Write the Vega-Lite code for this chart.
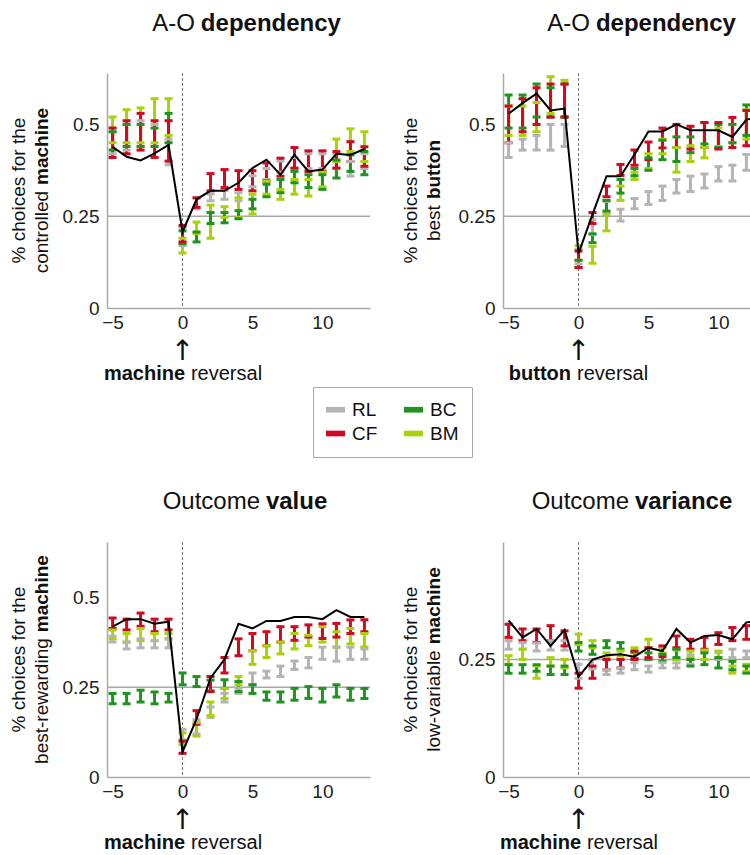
{
"$schema":"https://vega.github.io/schema/vega-lite/v6.json",
"background":"white",
"padding":{"left":10,"top":11,"right":0,"bottom":0},
"datasets":{
"obs":[
{"p":1,"x":-5,"y":0.439},{"p":1,"x":-4,"y":0.412},{"p":1,"x":-3,"y":0.402},{"p":1,"x":-2,"y":0.421},{"p":1,"x":-1,"y":0.444},{"p":1,"x":0,"y":0.207},{"p":1,"x":1,"y":0.296},{"p":1,"x":2,"y":0.319},{"p":1,"x":3,"y":0.319},{"p":1,"x":4,"y":0.341},{"p":1,"x":5,"y":0.381},{"p":1,"x":6,"y":0.404},{"p":1,"x":7,"y":0.363},{"p":1,"x":8,"y":0.417},{"p":1,"x":9,"y":0.372},{"p":1,"x":10,"y":0.377},{"p":1,"x":11,"y":0.42},{"p":1,"x":12,"y":0.417},{"p":1,"x":13,"y":0.433},
{"p":2,"x":-5,"y":0.529},{"p":2,"x":-4,"y":0.558},{"p":2,"x":-3,"y":0.584},{"p":2,"x":-2,"y":0.538},{"p":2,"x":-1,"y":0.543},{"p":2,"x":0,"y":0.149},{"p":2,"x":1,"y":0.255},{"p":2,"x":2,"y":0.359},{"p":2,"x":3,"y":0.359},{"p":2,"x":4,"y":0.418},{"p":2,"x":5,"y":0.481},{"p":2,"x":6,"y":0.481},{"p":2,"x":7,"y":0.5},{"p":2,"x":8,"y":0.484},{"p":2,"x":9,"y":0.484},{"p":2,"x":10,"y":0.484},{"p":2,"x":11,"y":0.466},{"p":2,"x":12,"y":0.513},{"p":2,"x":13,"y":0.519},
{"p":3,"x":-5,"y":0.419},{"p":3,"x":-4,"y":0.44},{"p":3,"x":-3,"y":0.44},{"p":3,"x":-2,"y":0.427},{"p":3,"x":-1,"y":0.433},{"p":3,"x":0,"y":0.07},{"p":3,"x":1,"y":0.161},{"p":3,"x":2,"y":0.276},{"p":3,"x":3,"y":0.328},{"p":3,"x":4,"y":0.427},{"p":3,"x":5,"y":0.414},{"p":3,"x":6,"y":0.435},{"p":3,"x":7,"y":0.435},{"p":3,"x":8,"y":0.446},{"p":3,"x":9,"y":0.446},{"p":3,"x":10,"y":0.44},{"p":3,"x":11,"y":0.465},{"p":3,"x":12,"y":0.446},{"p":3,"x":13,"y":0.446},
{"p":4,"x":-5,"y":0.333},{"p":4,"x":-4,"y":0.297},{"p":4,"x":-3,"y":0.315},{"p":4,"x":-2,"y":0.279},{"p":4,"x":-1,"y":0.313},{"p":4,"x":0,"y":0.213},{"p":4,"x":1,"y":0.25},{"p":4,"x":2,"y":0.259},{"p":4,"x":3,"y":0.261},{"p":4,"x":4,"y":0.256},{"p":4,"x":5,"y":0.275},{"p":4,"x":6,"y":0.268},{"p":4,"x":7,"y":0.315},{"p":4,"x":8,"y":0.286},{"p":4,"x":9,"y":0.3},{"p":4,"x":10,"y":0.302},{"p":4,"x":11,"y":0.293},{"p":4,"x":12,"y":0.329},{"p":4,"x":13,"y":0.333}
],
"eb":[
{"p":1,"m":"RL","x":-5,"lo":0.42,"hi":0.48},{"p":1,"m":"RL","x":-4,"lo":0.43,"hi":0.5},{"p":1,"m":"RL","x":-3,"lo":0.44,"hi":0.51},{"p":1,"m":"RL","x":-2,"lo":0.44,"hi":0.5},{"p":1,"m":"RL","x":-1,"lo":0.39,"hi":0.46},{"p":1,"m":"RL","x":0,"lo":0.17,"hi":0.22},{"p":1,"m":"RL","x":1,"lo":0.27,"hi":0.3},{"p":1,"m":"RL","x":2,"lo":0.292,"hi":0.31},{"p":1,"m":"RL","x":3,"lo":0.296,"hi":0.32},{"p":1,"m":"RL","x":4,"lo":0.292,"hi":0.314},{"p":1,"m":"RL","x":5,"lo":0.33,"hi":0.36},{"p":1,"m":"RL","x":6,"lo":0.35,"hi":0.38},{"p":1,"m":"RL","x":7,"lo":0.37,"hi":0.4},{"p":1,"m":"RL","x":8,"lo":0.38,"hi":0.41},{"p":1,"m":"RL","x":9,"lo":0.38,"hi":0.42},{"p":1,"m":"RL","x":10,"lo":0.38,"hi":0.42},{"p":1,"m":"RL","x":11,"lo":0.38,"hi":0.42},{"p":1,"m":"RL","x":12,"lo":0.359,"hi":0.399},{"p":1,"m":"RL","x":13,"lo":0.38,"hi":0.42},
{"p":1,"m":"BM","x":-5,"lo":0.45,"hi":0.52},{"p":1,"m":"BM","x":-4,"lo":0.45,"hi":0.54},{"p":1,"m":"BM","x":-3,"lo":0.45,"hi":0.545},{"p":1,"m":"BM","x":-2,"lo":0.45,"hi":0.57},{"p":1,"m":"BM","x":-1,"lo":0.47,"hi":0.57},{"p":1,"m":"BM","x":0,"lo":0.15,"hi":0.19},{"p":1,"m":"BM","x":1,"lo":0.203,"hi":0.234},{"p":1,"m":"BM","x":2,"lo":0.19,"hi":0.28},{"p":1,"m":"BM","x":3,"lo":0.247,"hi":0.276},{"p":1,"m":"BM","x":4,"lo":0.247,"hi":0.3},{"p":1,"m":"BM","x":5,"lo":0.256,"hi":0.31},{"p":1,"m":"BM","x":6,"lo":0.31,"hi":0.345},{"p":1,"m":"BM","x":7,"lo":0.296,"hi":0.323},{"p":1,"m":"BM","x":8,"lo":0.31,"hi":0.35},{"p":1,"m":"BM","x":9,"lo":0.305,"hi":0.35},{"p":1,"m":"BM","x":10,"lo":0.33,"hi":0.37},{"p":1,"m":"BM","x":11,"lo":0.399,"hi":0.46},{"p":1,"m":"BM","x":12,"lo":0.426,"hi":0.488},{"p":1,"m":"BM","x":13,"lo":0.399,"hi":0.48},
{"p":1,"m":"BC","x":-5,"lo":0.43,"hi":0.48},{"p":1,"m":"BC","x":-4,"lo":0.44,"hi":0.5},{"p":1,"m":"BC","x":-3,"lo":0.44,"hi":0.5},{"p":1,"m":"BC","x":-2,"lo":0.44,"hi":0.49},{"p":1,"m":"BC","x":-1,"lo":0.45,"hi":0.53},{"p":1,"m":"BC","x":0,"lo":0.175,"hi":0.21},{"p":1,"m":"BC","x":1,"lo":0.18,"hi":0.207},{"p":1,"m":"BC","x":2,"lo":0.23,"hi":0.26},{"p":1,"m":"BC","x":3,"lo":0.232,"hi":0.26},{"p":1,"m":"BC","x":4,"lo":0.243,"hi":0.265},{"p":1,"m":"BC","x":5,"lo":0.27,"hi":0.296},{"p":1,"m":"BC","x":6,"lo":0.303,"hi":0.337},{"p":1,"m":"BC","x":7,"lo":0.314,"hi":0.35},{"p":1,"m":"BC","x":8,"lo":0.341,"hi":0.372},{"p":1,"m":"BC","x":9,"lo":0.328,"hi":0.363},{"p":1,"m":"BC","x":10,"lo":0.323,"hi":0.363},{"p":1,"m":"BC","x":11,"lo":0.354,"hi":0.403},{"p":1,"m":"BC","x":12,"lo":0.372,"hi":0.417},{"p":1,"m":"BC","x":13,"lo":0.363,"hi":0.426},
{"p":1,"m":"CF","x":-5,"lo":0.41,"hi":0.49},{"p":1,"m":"CF","x":-4,"lo":0.42,"hi":0.51},{"p":1,"m":"CF","x":-3,"lo":0.43,"hi":0.53},{"p":1,"m":"CF","x":-2,"lo":0.41,"hi":0.51},{"p":1,"m":"CF","x":-1,"lo":0.4,"hi":0.51},{"p":1,"m":"CF","x":0,"lo":0.18,"hi":0.225},{"p":1,"m":"CF","x":1,"lo":0.274,"hi":0.3},{"p":1,"m":"CF","x":2,"lo":0.319,"hi":0.366},{"p":1,"m":"CF","x":3,"lo":0.328,"hi":0.377},{"p":1,"m":"CF","x":4,"lo":0.323,"hi":0.374},{"p":1,"m":"CF","x":5,"lo":0.319,"hi":0.374},{"p":1,"m":"CF","x":6,"lo":0.346,"hi":0.395},{"p":1,"m":"CF","x":7,"lo":0.359,"hi":0.408},{"p":1,"m":"CF","x":8,"lo":0.381,"hi":0.437},{"p":1,"m":"CF","x":9,"lo":0.372,"hi":0.428},{"p":1,"m":"CF","x":10,"lo":0.372,"hi":0.428},{"p":1,"m":"CF","x":11,"lo":0.381,"hi":0.426},{"p":1,"m":"CF","x":12,"lo":0.399,"hi":0.453},{"p":1,"m":"CF","x":13,"lo":0.386,"hi":0.439},

{"p":2,"m":"RL","x":-5,"lo":0.41,"hi":0.45},{"p":2,"m":"RL","x":-4,"lo":0.43,"hi":0.46},{"p":2,"m":"RL","x":-3,"lo":0.43,"hi":0.47},{"p":2,"m":"RL","x":-2,"lo":0.43,"hi":0.5},{"p":2,"m":"RL","x":-1,"lo":0.44,"hi":0.5},{"p":2,"m":"RL","x":0,"lo":0.12,"hi":0.16},{"p":2,"m":"RL","x":1,"lo":0.2,"hi":0.24},{"p":2,"m":"RL","x":2,"lo":0.26,"hi":0.29},{"p":2,"m":"RL","x":3,"lo":0.237,"hi":0.269},{"p":2,"m":"RL","x":4,"lo":0.27,"hi":0.298},{"p":2,"m":"RL","x":5,"lo":0.282,"hi":0.317},{"p":2,"m":"RL","x":6,"lo":0.293,"hi":0.332},{"p":2,"m":"RL","x":7,"lo":0.313,"hi":0.35},{"p":2,"m":"RL","x":8,"lo":0.317,"hi":0.359},{"p":2,"m":"RL","x":9,"lo":0.327,"hi":0.365},{"p":2,"m":"RL","x":10,"lo":0.346,"hi":0.385},{"p":2,"m":"RL","x":11,"lo":0.346,"hi":0.389},{"p":2,"m":"RL","x":12,"lo":0.375,"hi":0.418},{"p":2,"m":"RL","x":13,"lo":0.38,"hi":0.42},
{"p":2,"m":"BM","x":-5,"lo":0.47,"hi":0.55},{"p":2,"m":"BM","x":-4,"lo":0.47,"hi":0.55},{"p":2,"m":"BM","x":-3,"lo":0.48,"hi":0.56},{"p":2,"m":"BM","x":-2,"lo":0.53,"hi":0.63},{"p":2,"m":"BM","x":-1,"lo":0.52,"hi":0.62},{"p":2,"m":"BM","x":0,"lo":0.13,"hi":0.17},{"p":2,"m":"BM","x":1,"lo":0.122,"hi":0.168},{"p":2,"m":"BM","x":2,"lo":0.21,"hi":0.255},{"p":2,"m":"BM","x":3,"lo":0.293,"hi":0.332},{"p":2,"m":"BM","x":4,"lo":0.35,"hi":0.37},{"p":2,"m":"BM","x":5,"lo":0.38,"hi":0.42},{"p":2,"m":"BM","x":6,"lo":0.42,"hi":0.46},{"p":2,"m":"BM","x":7,"lo":0.37,"hi":0.437},{"p":2,"m":"BM","x":8,"lo":0.399,"hi":0.442},{"p":2,"m":"BM","x":9,"lo":0.409,"hi":0.437},{"p":2,"m":"BM","x":10,"lo":0.44,"hi":0.49},{"p":2,"m":"BM","x":11,"lo":0.45,"hi":0.5},{"p":2,"m":"BM","x":12,"lo":0.46,"hi":0.54},{"p":2,"m":"BM","x":13,"lo":0.46,"hi":0.53},
{"p":2,"m":"BC","x":-5,"lo":0.49,"hi":0.58},{"p":2,"m":"BC","x":-4,"lo":0.49,"hi":0.58},{"p":2,"m":"BC","x":-3,"lo":0.52,"hi":0.61},{"p":2,"m":"BC","x":-2,"lo":0.52,"hi":0.6},{"p":2,"m":"BC","x":-1,"lo":0.52,"hi":0.61},{"p":2,"m":"BC","x":0,"lo":0.11,"hi":0.13},{"p":2,"m":"BC","x":1,"lo":0.178,"hi":0.202},{"p":2,"m":"BC","x":2,"lo":0.264,"hi":0.293},{"p":2,"m":"BC","x":3,"lo":0.313,"hi":0.35},{"p":2,"m":"BC","x":4,"lo":0.36,"hi":0.38},{"p":2,"m":"BC","x":5,"lo":0.375,"hi":0.409},{"p":2,"m":"BC","x":6,"lo":0.404,"hi":0.457},{"p":2,"m":"BC","x":7,"lo":0.399,"hi":0.466},{"p":2,"m":"BC","x":8,"lo":0.423,"hi":0.466},{"p":2,"m":"BC","x":9,"lo":0.447,"hi":0.505},{"p":2,"m":"BC","x":10,"lo":0.437,"hi":0.5},{"p":2,"m":"BC","x":11,"lo":0.45,"hi":0.5},{"p":2,"m":"BC","x":12,"lo":0.47,"hi":0.553},{"p":2,"m":"BC","x":13,"lo":0.47,"hi":0.55},
{"p":2,"m":"CF","x":-5,"lo":0.45,"hi":0.55},{"p":2,"m":"CF","x":-4,"lo":0.48,"hi":0.57},{"p":2,"m":"CF","x":-3,"lo":0.5,"hi":0.6},{"p":2,"m":"CF","x":-2,"lo":0.52,"hi":0.61},{"p":2,"m":"CF","x":-1,"lo":0.52,"hi":0.61},{"p":2,"m":"CF","x":0,"lo":0.11,"hi":0.155},{"p":2,"m":"CF","x":1,"lo":0.23,"hi":0.26},{"p":2,"m":"CF","x":2,"lo":0.303,"hi":0.332},{"p":2,"m":"CF","x":3,"lo":0.361,"hi":0.391},{"p":2,"m":"CF","x":4,"lo":0.389,"hi":0.43},{"p":2,"m":"CF","x":5,"lo":0.404,"hi":0.452},{"p":2,"m":"CF","x":6,"lo":0.436,"hi":0.49},{"p":2,"m":"CF","x":7,"lo":0.437,"hi":0.5},{"p":2,"m":"CF","x":8,"lo":0.433,"hi":0.495},{"p":2,"m":"CF","x":9,"lo":0.437,"hi":0.505},{"p":2,"m":"CF","x":10,"lo":0.433,"hi":0.505},{"p":2,"m":"CF","x":11,"lo":0.437,"hi":0.519},{"p":2,"m":"CF","x":12,"lo":0.442,"hi":0.538},{"p":2,"m":"CF","x":13,"lo":0.44,"hi":0.54},

{"p":3,"m":"RL","x":-5,"lo":0.376,"hi":0.392},{"p":3,"m":"RL","x":-4,"lo":0.357,"hi":0.376},{"p":3,"m":"RL","x":-3,"lo":0.36,"hi":0.385},{"p":3,"m":"RL","x":-2,"lo":0.36,"hi":0.38},{"p":3,"m":"RL","x":-1,"lo":0.36,"hi":0.385},{"p":3,"m":"RL","x":0,"lo":0.104,"hi":0.133},{"p":3,"m":"RL","x":1,"lo":0.12,"hi":0.16},{"p":3,"m":"RL","x":2,"lo":0.166,"hi":0.195},{"p":3,"m":"RL","x":3,"lo":0.209,"hi":0.233},{"p":3,"m":"RL","x":4,"lo":0.233,"hi":0.247},{"p":3,"m":"RL","x":5,"lo":0.257,"hi":0.29},{"p":3,"m":"RL","x":6,"lo":0.276,"hi":0.295},{"p":3,"m":"RL","x":7,"lo":0.28,"hi":0.309},{"p":3,"m":"RL","x":8,"lo":0.3,"hi":0.323},{"p":3,"m":"RL","x":9,"lo":0.304,"hi":0.333},{"p":3,"m":"RL","x":10,"lo":0.328,"hi":0.362},{"p":3,"m":"RL","x":11,"lo":0.323,"hi":0.362},{"p":3,"m":"RL","x":12,"lo":0.328,"hi":0.362},{"p":3,"m":"RL","x":13,"lo":0.328,"hi":0.357},
{"p":3,"m":"BM","x":-5,"lo":0.385,"hi":0.41},{"p":3,"m":"BM","x":-4,"lo":0.376,"hi":0.4},{"p":3,"m":"BM","x":-3,"lo":0.38,"hi":0.414},{"p":3,"m":"BM","x":-2,"lo":0.38,"hi":0.4},{"p":3,"m":"BM","x":-1,"lo":0.385,"hi":0.4},{"p":3,"m":"BM","x":0,"lo":0.09,"hi":0.123},{"p":3,"m":"BM","x":1,"lo":0.114,"hi":0.152},{"p":3,"m":"BM","x":2,"lo":0.171,"hi":0.209},{"p":3,"m":"BM","x":3,"lo":0.219,"hi":0.247},{"p":3,"m":"BM","x":4,"lo":0.257,"hi":0.28},{"p":3,"m":"BM","x":5,"lo":0.314,"hi":0.352},{"p":3,"m":"BM","x":6,"lo":0.333,"hi":0.366},{"p":3,"m":"BM","x":7,"lo":0.343,"hi":0.376},{"p":3,"m":"BM","x":8,"lo":0.357,"hi":0.4},{"p":3,"m":"BM","x":9,"lo":0.366,"hi":0.395},{"p":3,"m":"BM","x":10,"lo":0.376,"hi":0.419},{"p":3,"m":"BM","x":11,"lo":0.362,"hi":0.405},{"p":3,"m":"BM","x":12,"lo":0.371,"hi":0.414},{"p":3,"m":"BM","x":13,"lo":0.362,"hi":0.4},
{"p":3,"m":"BC","x":-5,"lo":0.204,"hi":0.233},{"p":3,"m":"BC","x":-4,"lo":0.204,"hi":0.233},{"p":3,"m":"BC","x":-3,"lo":0.209,"hi":0.242},{"p":3,"m":"BC","x":-2,"lo":0.204,"hi":0.237},{"p":3,"m":"BC","x":-1,"lo":0.209,"hi":0.233},{"p":3,"m":"BC","x":0,"lo":0.257,"hi":0.29},{"p":3,"m":"BC","x":1,"lo":0.252,"hi":0.28},{"p":3,"m":"BC","x":2,"lo":0.24,"hi":0.27},{"p":3,"m":"BC","x":3,"lo":0.247,"hi":0.271},{"p":3,"m":"BC","x":4,"lo":0.238,"hi":0.266},{"p":3,"m":"BC","x":5,"lo":0.233,"hi":0.257},{"p":3,"m":"BC","x":6,"lo":0.214,"hi":0.237},{"p":3,"m":"BC","x":7,"lo":0.209,"hi":0.237},{"p":3,"m":"BC","x":8,"lo":0.214,"hi":0.247},{"p":3,"m":"BC","x":9,"lo":0.219,"hi":0.252},{"p":3,"m":"BC","x":10,"lo":0.209,"hi":0.247},{"p":3,"m":"BC","x":11,"lo":0.223,"hi":0.257},{"p":3,"m":"BC","x":12,"lo":0.214,"hi":0.247},{"p":3,"m":"BC","x":13,"lo":0.219,"hi":0.247},
{"p":3,"m":"CF","x":-5,"lo":0.414,"hi":0.443},{"p":3,"m":"CF","x":-4,"lo":0.41,"hi":0.44},{"p":3,"m":"CF","x":-3,"lo":0.42,"hi":0.457},{"p":3,"m":"CF","x":-2,"lo":0.405,"hi":0.44},{"p":3,"m":"CF","x":-1,"lo":0.41,"hi":0.44},{"p":3,"m":"CF","x":0,"lo":0.066,"hi":0.1},{"p":3,"m":"CF","x":1,"lo":0.147,"hi":0.185},{"p":3,"m":"CF","x":2,"lo":0.238,"hi":0.28},{"p":3,"m":"CF","x":3,"lo":0.29,"hi":0.333},{"p":3,"m":"CF","x":4,"lo":0.338,"hi":0.385},{"p":3,"m":"CF","x":5,"lo":0.352,"hi":0.4},{"p":3,"m":"CF","x":6,"lo":0.366,"hi":0.405},{"p":3,"m":"CF","x":7,"lo":0.376,"hi":0.419},{"p":3,"m":"CF","x":8,"lo":0.381,"hi":0.419},{"p":3,"m":"CF","x":9,"lo":0.39,"hi":0.424},{"p":3,"m":"CF","x":10,"lo":0.386,"hi":0.427},{"p":3,"m":"CF","x":11,"lo":0.39,"hi":0.428},{"p":3,"m":"CF","x":12,"lo":0.4,"hi":0.438},{"p":3,"m":"CF","x":13,"lo":0.405,"hi":0.438},

{"p":4,"m":"RL","x":-5,"lo":0.272,"hi":0.29},{"p":4,"m":"RL","x":-4,"lo":0.272,"hi":0.286},{"p":4,"m":"RL","x":-3,"lo":0.268,"hi":0.285},{"p":4,"m":"RL","x":-2,"lo":0.27,"hi":0.29},{"p":4,"m":"RL","x":-1,"lo":0.27,"hi":0.29},{"p":4,"m":"RL","x":0,"lo":0.21,"hi":0.24},{"p":4,"m":"RL","x":1,"lo":0.23,"hi":0.25},{"p":4,"m":"RL","x":2,"lo":0.218,"hi":0.228},{"p":4,"m":"RL","x":3,"lo":0.221,"hi":0.232},{"p":4,"m":"RL","x":4,"lo":0.228,"hi":0.243},{"p":4,"m":"RL","x":5,"lo":0.223,"hi":0.236},{"p":4,"m":"RL","x":6,"lo":0.232,"hi":0.243},{"p":4,"m":"RL","x":7,"lo":0.232,"hi":0.243},{"p":4,"m":"RL","x":8,"lo":0.24,"hi":0.26},{"p":4,"m":"RL","x":9,"lo":0.25,"hi":0.265},{"p":4,"m":"RL","x":10,"lo":0.25,"hi":0.265},{"p":4,"m":"RL","x":11,"lo":0.254,"hi":0.272},{"p":4,"m":"RL","x":12,"lo":0.254,"hi":0.268},{"p":4,"m":"RL","x":13,"lo":0.255,"hi":0.27},
{"p":4,"m":"BM","x":-5,"lo":0.24,"hi":0.258},{"p":4,"m":"BM","x":-4,"lo":0.25,"hi":0.272},{"p":4,"m":"BM","x":-3,"lo":0.21,"hi":0.236},{"p":4,"m":"BM","x":-2,"lo":0.236,"hi":0.254},{"p":4,"m":"BM","x":-1,"lo":0.232,"hi":0.25},{"p":4,"m":"BM","x":0,"lo":0.282,"hi":0.304},{"p":4,"m":"BM","x":1,"lo":0.275,"hi":0.29},{"p":4,"m":"BM","x":2,"lo":0.254,"hi":0.264},{"p":4,"m":"BM","x":3,"lo":0.257,"hi":0.268},{"p":4,"m":"BM","x":4,"lo":0.264,"hi":0.275},{"p":4,"m":"BM","x":5,"lo":0.275,"hi":0.293},{"p":4,"m":"BM","x":6,"lo":0.264,"hi":0.275},{"p":4,"m":"BM","x":7,"lo":0.25,"hi":0.27},{"p":4,"m":"BM","x":8,"lo":0.254,"hi":0.268},{"p":4,"m":"BM","x":9,"lo":0.25,"hi":0.27},{"p":4,"m":"BM","x":10,"lo":0.254,"hi":0.268},{"p":4,"m":"BM","x":11,"lo":0.221,"hi":0.236},{"p":4,"m":"BM","x":12,"lo":0.225,"hi":0.24},{"p":4,"m":"BM","x":13,"lo":0.23,"hi":0.245},
{"p":4,"m":"BC","x":-5,"lo":0.221,"hi":0.239},{"p":4,"m":"BC","x":-4,"lo":0.221,"hi":0.239},{"p":4,"m":"BC","x":-3,"lo":0.225,"hi":0.239},{"p":4,"m":"BC","x":-2,"lo":0.218,"hi":0.236},{"p":4,"m":"BC","x":-1,"lo":0.218,"hi":0.236},{"p":4,"m":"BC","x":0,"lo":0.268,"hi":0.286},{"p":4,"m":"BC","x":1,"lo":0.261,"hi":0.279},{"p":4,"m":"BC","x":2,"lo":0.275,"hi":0.29},{"p":4,"m":"BC","x":3,"lo":0.272,"hi":0.286},{"p":4,"m":"BC","x":4,"lo":0.252,"hi":0.266},{"p":4,"m":"BC","x":5,"lo":0.25,"hi":0.264},{"p":4,"m":"BC","x":6,"lo":0.246,"hi":0.261},{"p":4,"m":"BC","x":7,"lo":0.254,"hi":0.272},{"p":4,"m":"BC","x":8,"lo":0.236,"hi":0.25},{"p":4,"m":"BC","x":9,"lo":0.239,"hi":0.264},{"p":4,"m":"BC","x":10,"lo":0.232,"hi":0.254},{"p":4,"m":"BC","x":11,"lo":0.228,"hi":0.246},{"p":4,"m":"BC","x":12,"lo":0.221,"hi":0.236},{"p":4,"m":"BC","x":13,"lo":0.22,"hi":0.235},
{"p":4,"m":"CF","x":-5,"lo":0.297,"hi":0.325},{"p":4,"m":"CF","x":-4,"lo":0.29,"hi":0.315},{"p":4,"m":"CF","x":-3,"lo":0.286,"hi":0.315},{"p":4,"m":"CF","x":-2,"lo":0.29,"hi":0.322},{"p":4,"m":"CF","x":-1,"lo":0.279,"hi":0.311},{"p":4,"m":"CF","x":0,"lo":0.189,"hi":0.221},{"p":4,"m":"CF","x":1,"lo":0.21,"hi":0.236},{"p":4,"m":"CF","x":2,"lo":0.228,"hi":0.25},{"p":4,"m":"CF","x":3,"lo":0.232,"hi":0.25},{"p":4,"m":"CF","x":4,"lo":0.25,"hi":0.268},{"p":4,"m":"CF","x":5,"lo":0.254,"hi":0.275},{"p":4,"m":"CF","x":6,"lo":0.256,"hi":0.279},{"p":4,"m":"CF","x":7,"lo":0.275,"hi":0.3},{"p":4,"m":"CF","x":8,"lo":0.272,"hi":0.293},{"p":4,"m":"CF","x":9,"lo":0.272,"hi":0.297},{"p":4,"m":"CF","x":10,"lo":0.282,"hi":0.307},{"p":4,"m":"CF","x":11,"lo":0.29,"hi":0.318},{"p":4,"m":"CF","x":12,"lo":0.293,"hi":0.322},{"p":4,"m":"CF","x":13,"lo":0.29,"hi":0.32}
]
},
"vconcat":[
{"hconcat":[
{"width":263,"height":235,
"layer":[
{"data":{"values":[{}]},"mark":{"type":"rule","color":"#a8a8a8","strokeWidth":1.5},"encoding":{"y":{"datum":0.25,"type":"quantitative"}}},
{"data":{"values":[{}]},"mark":{"type":"rule","color":"#777777","strokeDash":[3,2],"strokeWidth":1},"encoding":{"x":{"datum":0,"type":"quantitative"}}},
{"data":{"name":"eb"},"transform":[{"filter":"datum.p==1"}],
"encoding":{"x":{"field":"x","type":"quantitative","scale":{"domain":[-5.4,13.4],"nice":false,"zero":false},"axis":{"values":[-5,0,5,10],"title":null}},
"color":{"field":"m","type":"nominal","scale":{"domain":["RL","CF","BC","BM"],"range":["#b4b4b4","#d00b21","#1f941f","#a8d20a"]},"legend":{"title":null}}},
"layer":[
{"mark":{"type":"rule","strokeWidth":3,"opacity":1},"encoding":{"y":{"field":"lo","type":"quantitative","scale":{"domain":[0,0.64],"nice":false},"axis":{"values":[0,0.25,0.5],"format":".2~f","title":null}},"y2":{"field":"hi"}}},
{"mark":{"type":"tick","orient":"horizontal","size":8,"thickness":3,"opacity":1},"encoding":{"y":{"field":"lo","type":"quantitative"}}},
{"mark":{"type":"tick","orient":"horizontal","size":8,"thickness":3,"opacity":1},"encoding":{"y":{"field":"hi","type":"quantitative"}}}
]},
{"data":{"name":"obs"},"transform":[{"filter":"datum.p==1"}],"mark":{"type":"line","color":"#000000","strokeWidth":2},"encoding":{"x":{"field":"x","type":"quantitative"},"y":{"field":"y","type":"quantitative"}}},
{"data":{"values":[{}]},"mark":{"type":"text","align":"right","baseline":"alphabetic","fontSize":24,"color":"#111111"},"encoding":{"x":{"datum":0.89,"type":"quantitative"},"y":{"datum":0.7544,"type":"quantitative"},"text":{"value":"A-O"}}},
{"data":{"values":[{}]},"mark":{"type":"text","align":"left","baseline":"alphabetic","fontSize":24,"fontWeight":"bold","color":"#111111"},"encoding":{"x":{"datum":1.31,"type":"quantitative"},"y":{"datum":0.7544,"type":"quantitative"},"text":{"value":"dependency"}}},
{"data":{"values":[{}]},"mark":{"type":"text","align":"center","baseline":"alphabetic","fontSize":28,"font":"DejaVu Sans","color":"#111111"},"encoding":{"x":{"datum":0,"type":"quantitative"},"y":{"datum":-0.1416,"type":"quantitative"},"text":{"value":"↑"}}},
{"data":{"values":[{}]},"mark":{"type":"text","align":"right","baseline":"alphabetic","fontSize":20,"fontWeight":"bold","color":"#111111"},"encoding":{"x":{"datum":0.18,"type":"quantitative"},"y":{"datum":-0.1961,"type":"quantitative"},"text":{"value":"machine"}}},
{"data":{"values":[{}]},"mark":{"type":"text","align":"left","baseline":"alphabetic","fontSize":20,"color":"#111111"},"encoding":{"x":{"datum":0.6,"type":"quantitative"},"y":{"datum":-0.1961,"type":"quantitative"},"text":{"value":"reversal"}}},
{"data":{"values":[{}]},"mark":{"type":"text","align":"center","baseline":"middle","angle":270,"fontSize":19,"color":"#111111"},"encoding":{"x":{"datum":-11.69,"type":"quantitative"},"y":{"datum":0.32,"type":"quantitative"},"text":{"value":"% choices for the"}}},
{"data":{"values":[{}]},"mark":{"type":"text","align":"right","baseline":"middle","angle":270,"fontSize":19,"color":"#111111"},"encoding":{"x":{"datum":-10.05,"type":"quantitative"},"y":{"datum":0.3188,"type":"quantitative"},"text":{"value":"controlled"}}},
{"data":{"values":[{}]},"mark":{"type":"text","align":"left","baseline":"middle","angle":270,"fontSize":19,"fontWeight":"bold","color":"#111111"},"encoding":{"x":{"datum":-10.05,"type":"quantitative"},"y":{"datum":0.3352,"type":"quantitative"},"text":{"value":"machine"}}}
]},
{"width":248,"height":235,
"layer":[
{"data":{"values":[{}]},"mark":{"type":"rule","color":"#a8a8a8","strokeWidth":1.5},"encoding":{"y":{"datum":0.25,"type":"quantitative"}}},
{"data":{"values":[{}]},"mark":{"type":"rule","color":"#777777","strokeDash":[3,2],"strokeWidth":1},"encoding":{"x":{"datum":0,"type":"quantitative"}}},
{"data":{"name":"eb"},"transform":[{"filter":"datum.p==2"}],
"encoding":{"x":{"field":"x","type":"quantitative","scale":{"domain":[-5.4,12.33],"nice":false,"zero":false},"axis":{"values":[-5,0,5,10],"title":null}},
"color":{"field":"m","type":"nominal","scale":{"domain":["RL","CF","BC","BM"],"range":["#b4b4b4","#d00b21","#1f941f","#a8d20a"]},"legend":{"title":null}}},
"layer":[
{"mark":{"type":"rule","strokeWidth":3,"opacity":1,"clip":true},"encoding":{"y":{"field":"lo","type":"quantitative","scale":{"domain":[0,0.64],"nice":false},"axis":{"values":[0,0.25,0.5],"format":".2~f","title":null}},"y2":{"field":"hi"}}},
{"mark":{"type":"tick","orient":"horizontal","size":8,"thickness":3,"opacity":1,"clip":true},"encoding":{"y":{"field":"lo","type":"quantitative"}}},
{"mark":{"type":"tick","orient":"horizontal","size":8,"thickness":3,"opacity":1,"clip":true},"encoding":{"y":{"field":"hi","type":"quantitative"}}}
]},
{"data":{"name":"obs"},"transform":[{"filter":"datum.p==2"}],"mark":{"type":"line","color":"#000000","strokeWidth":2,"clip":true},"encoding":{"x":{"field":"x","type":"quantitative"},"y":{"field":"y","type":"quantitative"}}},
{"data":{"values":[{}]},"mark":{"type":"text","align":"right","baseline":"alphabetic","fontSize":24,"color":"#111111"},"encoding":{"x":{"datum":0.82,"type":"quantitative"},"y":{"datum":0.7544,"type":"quantitative"},"text":{"value":"A-O"}}},
{"data":{"values":[{}]},"mark":{"type":"text","align":"left","baseline":"alphabetic","fontSize":24,"fontWeight":"bold","color":"#111111"},"encoding":{"x":{"datum":1.24,"type":"quantitative"},"y":{"datum":0.7544,"type":"quantitative"},"text":{"value":"dependency"}}},
{"data":{"values":[{}]},"mark":{"type":"text","align":"center","baseline":"alphabetic","fontSize":28,"font":"DejaVu Sans","color":"#111111"},"encoding":{"x":{"datum":0,"type":"quantitative"},"y":{"datum":-0.1416,"type":"quantitative"},"text":{"value":"↑"}}},
{"data":{"values":[{}]},"mark":{"type":"text","align":"right","baseline":"alphabetic","fontSize":20,"fontWeight":"bold","color":"#111111"},"encoding":{"x":{"datum":-0.54,"type":"quantitative"},"y":{"datum":-0.1961,"type":"quantitative"},"text":{"value":"button"}}},
{"data":{"values":[{}]},"mark":{"type":"text","align":"left","baseline":"alphabetic","fontSize":20,"color":"#111111"},"encoding":{"x":{"datum":-0.11,"type":"quantitative"},"y":{"datum":-0.1961,"type":"quantitative"},"text":{"value":"reversal"}}},
{"data":{"values":[{}]},"mark":{"type":"text","align":"center","baseline":"middle","angle":270,"fontSize":19,"color":"#111111"},"encoding":{"x":{"datum":-11.98,"type":"quantitative"},"y":{"datum":0.32,"type":"quantitative"},"text":{"value":"% choices for the"}}},
{"data":{"values":[{}]},"mark":{"type":"text","align":"right","baseline":"middle","angle":270,"fontSize":19,"color":"#111111"},"encoding":{"x":{"datum":-10.33,"type":"quantitative"},"y":{"datum":0.2802,"type":"quantitative"},"text":{"value":"best"}}},
{"data":{"values":[{}]},"mark":{"type":"text","align":"left","baseline":"middle","angle":270,"fontSize":19,"fontWeight":"bold","color":"#111111"},"encoding":{"x":{"datum":-10.33,"type":"quantitative"},"y":{"datum":0.2966,"type":"quantitative"},"text":{"value":"button"}}}
]}
],"spacing":30,"resolve":{"scale":{"color":"shared"},"legend":{"color":"shared"}}},
{"hconcat":[
{"width":263,"height":235,
"layer":[
{"data":{"values":[{}]},"mark":{"type":"rule","color":"#a8a8a8","strokeWidth":1.5},"encoding":{"y":{"datum":0.25,"type":"quantitative"}}},
{"data":{"values":[{}]},"mark":{"type":"rule","color":"#777777","strokeDash":[3,2],"strokeWidth":1},"encoding":{"x":{"datum":0,"type":"quantitative"}}},
{"data":{"name":"eb"},"transform":[{"filter":"datum.p==3"}],
"encoding":{"x":{"field":"x","type":"quantitative","scale":{"domain":[-5.4,13.4],"nice":false,"zero":false},"axis":{"values":[-5,0,5,10],"title":null}},
"color":{"field":"m","type":"nominal","scale":{"domain":["RL","CF","BC","BM"],"range":["#b4b4b4","#d00b21","#1f941f","#a8d20a"]},"legend":{"title":null}}},
"layer":[
{"mark":{"type":"rule","strokeWidth":3,"opacity":1},"encoding":{"y":{"field":"lo","type":"quantitative","scale":{"domain":[0,0.655],"nice":false},"axis":{"values":[0,0.25,0.5],"format":".2~f","title":null}},"y2":{"field":"hi"}}},
{"mark":{"type":"tick","orient":"horizontal","size":8,"thickness":3,"opacity":1},"encoding":{"y":{"field":"lo","type":"quantitative"}}},
{"mark":{"type":"tick","orient":"horizontal","size":8,"thickness":3,"opacity":1},"encoding":{"y":{"field":"hi","type":"quantitative"}}}
]},
{"data":{"name":"obs"},"transform":[{"filter":"datum.p==3"}],"mark":{"type":"line","color":"#000000","strokeWidth":2},"encoding":{"x":{"field":"x","type":"quantitative"},"y":{"field":"y","type":"quantitative"}}},
{"data":{"values":[{}]},"mark":{"type":"text","align":"right","baseline":"alphabetic","fontSize":24,"color":"#111111"},"encoding":{"x":{"datum":5.54,"type":"quantitative"},"y":{"datum":0.747,"type":"quantitative"},"text":{"value":"Outcome"}}},
{"data":{"values":[{}]},"mark":{"type":"text","align":"left","baseline":"alphabetic","fontSize":24,"fontWeight":"bold","color":"#111111"},"encoding":{"x":{"datum":5.96,"type":"quantitative"},"y":{"datum":0.747,"type":"quantitative"},"text":{"value":"value"}}},
{"data":{"values":[{}]},"mark":{"type":"text","align":"center","baseline":"alphabetic","fontSize":28,"font":"DejaVu Sans","color":"#111111"},"encoding":{"x":{"datum":0,"type":"quantitative"},"y":{"datum":-0.1449,"type":"quantitative"},"text":{"value":"↑"}}},
{"data":{"values":[{}]},"mark":{"type":"text","align":"right","baseline":"alphabetic","fontSize":20,"fontWeight":"bold","color":"#111111"},"encoding":{"x":{"datum":0.18,"type":"quantitative"},"y":{"datum":-0.2007,"type":"quantitative"},"text":{"value":"machine"}}},
{"data":{"values":[{}]},"mark":{"type":"text","align":"left","baseline":"alphabetic","fontSize":20,"color":"#111111"},"encoding":{"x":{"datum":0.6,"type":"quantitative"},"y":{"datum":-0.2007,"type":"quantitative"},"text":{"value":"reversal"}}},
{"data":{"values":[{}]},"mark":{"type":"text","align":"center","baseline":"middle","angle":270,"fontSize":19,"color":"#111111"},"encoding":{"x":{"datum":-11.69,"type":"quantitative"},"y":{"datum":0.3275,"type":"quantitative"},"text":{"value":"% choices for the"}}},
{"data":{"values":[{}]},"mark":{"type":"text","align":"right","baseline":"middle","angle":270,"fontSize":19,"color":"#111111"},"encoding":{"x":{"datum":-10.05,"type":"quantitative"},"y":{"datum":0.3868,"type":"quantitative"},"text":{"value":"best-rewarding"}}},
{"data":{"values":[{}]},"mark":{"type":"text","align":"left","baseline":"middle","angle":270,"fontSize":19,"fontWeight":"bold","color":"#111111"},"encoding":{"x":{"datum":-10.05,"type":"quantitative"},"y":{"datum":0.4036,"type":"quantitative"},"text":{"value":"machine"}}}
]},
{"width":248,"height":235,
"layer":[
{"data":{"values":[{}]},"mark":{"type":"rule","color":"#a8a8a8","strokeWidth":1.5},"encoding":{"y":{"datum":0.25,"type":"quantitative"}}},
{"data":{"values":[{}]},"mark":{"type":"rule","color":"#777777","strokeDash":[3,2],"strokeWidth":1},"encoding":{"x":{"datum":0,"type":"quantitative"}}},
{"data":{"name":"eb"},"transform":[{"filter":"datum.p==4"}],
"encoding":{"x":{"field":"x","type":"quantitative","scale":{"domain":[-5.4,12.33],"nice":false,"zero":false},"axis":{"values":[-5,0,5,10],"title":null}},
"color":{"field":"m","type":"nominal","scale":{"domain":["RL","CF","BC","BM"],"range":["#b4b4b4","#d00b21","#1f941f","#a8d20a"]},"legend":{"title":null}}},
"layer":[
{"mark":{"type":"rule","strokeWidth":3,"opacity":1,"clip":true},"encoding":{"y":{"field":"lo","type":"quantitative","scale":{"domain":[0,0.5],"nice":false},"axis":{"values":[0,0.25],"format":".2~f","title":null}},"y2":{"field":"hi"}}},
{"mark":{"type":"tick","orient":"horizontal","size":8,"thickness":3,"opacity":1,"clip":true},"encoding":{"y":{"field":"lo","type":"quantitative"}}},
{"mark":{"type":"tick","orient":"horizontal","size":8,"thickness":3,"opacity":1,"clip":true},"encoding":{"y":{"field":"hi","type":"quantitative"}}}
]},
{"data":{"name":"obs"},"transform":[{"filter":"datum.p==4"}],"mark":{"type":"line","color":"#000000","strokeWidth":2,"clip":true},"encoding":{"x":{"field":"x","type":"quantitative"},"y":{"field":"y","type":"quantitative"}}},
{"data":{"values":[{}]},"mark":{"type":"text","align":"right","baseline":"alphabetic","fontSize":24,"color":"#111111"},"encoding":{"x":{"datum":3.61,"type":"quantitative"},"y":{"datum":0.5702,"type":"quantitative"},"text":{"value":"Outcome"}}},
{"data":{"values":[{}]},"mark":{"type":"text","align":"left","baseline":"alphabetic","fontSize":24,"fontWeight":"bold","color":"#111111"},"encoding":{"x":{"datum":4.03,"type":"quantitative"},"y":{"datum":0.5702,"type":"quantitative"},"text":{"value":"variance"}}},
{"data":{"values":[{}]},"mark":{"type":"text","align":"center","baseline":"alphabetic","fontSize":28,"font":"DejaVu Sans","color":"#111111"},"encoding":{"x":{"datum":0,"type":"quantitative"},"y":{"datum":-0.1106,"type":"quantitative"},"text":{"value":"↑"}}},
{"data":{"values":[{}]},"mark":{"type":"text","align":"right","baseline":"alphabetic","fontSize":20,"fontWeight":"bold","color":"#111111"},"encoding":{"x":{"datum":0.18,"type":"quantitative"},"y":{"datum":-0.1532,"type":"quantitative"},"text":{"value":"machine"}}},
{"data":{"values":[{}]},"mark":{"type":"text","align":"left","baseline":"alphabetic","fontSize":20,"color":"#111111"},"encoding":{"x":{"datum":0.6,"type":"quantitative"},"y":{"datum":-0.1532,"type":"quantitative"},"text":{"value":"reversal"}}},
{"data":{"values":[{}]},"mark":{"type":"text","align":"center","baseline":"middle","angle":270,"fontSize":19,"color":"#111111"},"encoding":{"x":{"datum":-11.98,"type":"quantitative"},"y":{"datum":0.25,"type":"quantitative"},"text":{"value":"% choices for the"}}},
{"data":{"values":[{}]},"mark":{"type":"text","align":"right","baseline":"middle","angle":270,"fontSize":19,"color":"#111111"},"encoding":{"x":{"datum":-10.33,"type":"quantitative"},"y":{"datum":0.2695,"type":"quantitative"},"text":{"value":"low-variable"}}},
{"data":{"values":[{}]},"mark":{"type":"text","align":"left","baseline":"middle","angle":270,"fontSize":19,"fontWeight":"bold","color":"#111111"},"encoding":{"x":{"datum":-10.33,"type":"quantitative"},"y":{"datum":0.2823,"type":"quantitative"},"text":{"value":"machine"}}}
]}
],"spacing":30,"resolve":{"scale":{"color":"shared"},"legend":{"color":"shared"}}}
],
"spacing":104,
"resolve":{"scale":{"color":"shared"},"legend":{"color":"shared"}},
"config":{
"font":"Liberation Sans",
"view":{"stroke":null},
"axis":{"labelFontSize":19,"labelColor":"#222222","ticks":false,"grid":false,"domainColor":"#aaaaaa","domainWidth":1.5,"labelPadding":8},
"axisX":{"labelPadding":5},
"legend":{"orient":"none","legendX":206,"legendY":314,"columns":2,"symbolType":"M-1,-0.3H1V0.3H-1Z","symbolSize":361,"symbolStrokeWidth":0,"symbolOpacity":1,"labelFontSize":19,"labelColor":"#111111","strokeColor":"#aaaaaa","padding":13,"rowPadding":4,"columnPadding":26,"labelOffset":7}
}
}
